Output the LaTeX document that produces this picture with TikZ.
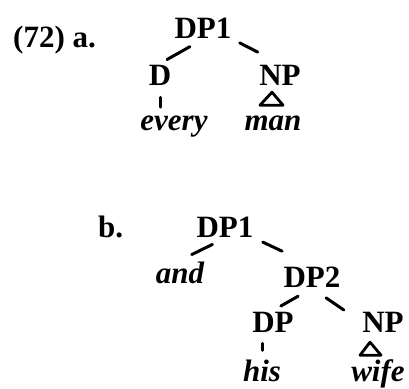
\documentclass[tikz,border=0pt]{standalone}
\usepackage{fontspec}
\setmainfont{Liberation Serif}

\begin{document}
\begin{tikzpicture}[x=1pt, y=-1pt, line cap=round, line join=round,
    cat/.style={font=\fontsize{31}{36}\selectfont\bfseries, inner sep=1pt, anchor=base},
    word/.style={font=\fontsize{31}{36}\selectfont\bfseries\itshape, inner sep=1pt, anchor=base},
    branch/.style={line width=3pt},
    roof/.style={line width=2.8pt}]
    \useasboundingbox (0,0) rectangle (409,388);

    % Tree a
    \node[cat, anchor=base west] (la) at (12,47) {(72) a.};
    \node[cat] (DP1a) at (203,38) {DP1};
    \node[cat] (Da) at (160,85) {D};
    \node[cat] (NPa) at (280,85) {NP};
    \node[word] (every) at (174,130) {every};
    \node[word] (man) at (273,130) {man};

    \draw[branch, shorten <=15pt, shorten >=8pt] (DP1a.south) -- (Da.north);
    \draw[branch, shorten <=8pt, shorten >=25pt] (DP1a.south east) -- (NPa.north);
    \draw[branch, shorten <=11pt, shorten >=7pt] (Da.south) -- (Da.south |- every.north);
    \draw[roof] ([xshift=-8pt, yshift=-6pt]NPa.south) -- ++(-12,13) -- ++(23,0) -- cycle;

    % Tree b
    \node[cat, anchor=base west] (lb) at (97,237) {b.};
    \node[cat] (DP1b) at (225,237) {DP1};
    \node[word] (and) at (180,283) {and};
    \node[cat] (DP2) at (312,287) {DP2};
    \node[cat] (DPb) at (273,332) {DP};
    \node[cat] (NPb) at (383,332) {NP};
    \node[word] (his) at (262,381) {his};
    \node[word] (wife) at (378,381) {wife};

    \draw[branch, shorten <=14pt, shorten >=13pt] (DP1b.south) -- (and.north);
    \draw[branch, shorten <=9pt, shorten >=33pt] (DP1b.south east) -- (DP2.north);
    \draw[branch, shorten <=16pt, shorten >=9pt] (DP2.south) -- (DPb.north);
    \draw[branch, shorten <=17pt, shorten >=21pt] (DP2.south) -- (NPb.west);
    \draw[branch, shorten <=10pt, shorten >=8pt] (his.north |- DPb.south) -- (his.north);
    \draw[roof] ([xshift=-13pt, yshift=-9pt]NPb.south) -- ++(-10,13) -- ++(21,0) -- cycle;
\end{tikzpicture}
\end{document}
